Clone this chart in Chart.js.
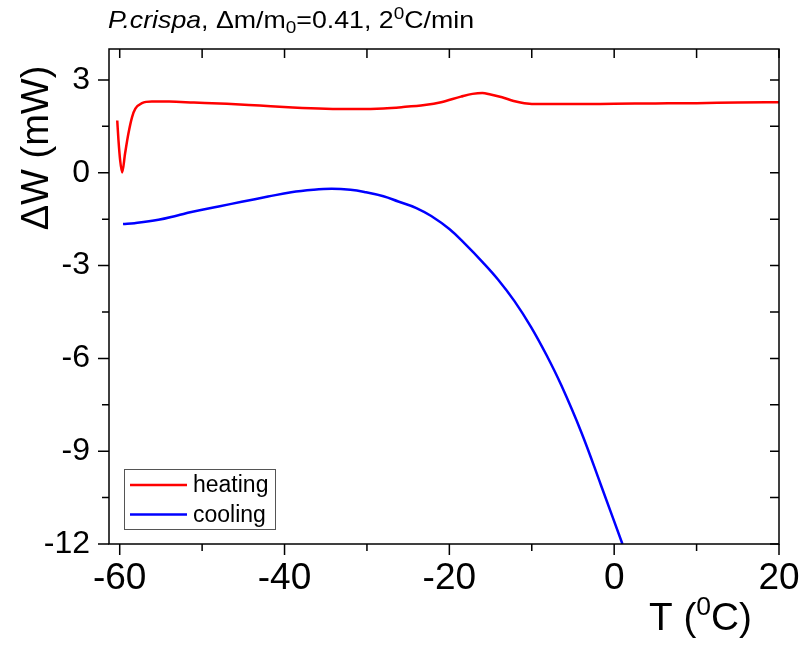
<!DOCTYPE html>
<html>
<head>
<meta charset="utf-8">
<title>P.crispa DSC</title>
<script src="https://cdn.jsdelivr.net/npm/chart.js@4.4.1/dist/chart.umd.min.js"></script>
<style>
  html, body { margin: 0; padding: 0; background: #fff; }
  canvas { display: block; }
</style>
</head>
<body>
<canvas id="dsc" width="806" height="646"></canvas>
<script>
// heating run, T in degC, dW in mW
const heatingT = [-60.3, -60.15, -59.95, -59.7, -59.35, -58.95, -58.5, -58.1, -57.3, -56.1, -54, -51, -47, -43, -39, -35, -31, -28, -25.8, -23, -21, -18.6, -17.2, -16, -15, -13.6, -12.2, -10.9, -9, -5, 0, 5, 10, 15, 20];
const heatingW = [1.69, 1.05, 0.41, 0.01, 0.62, 1.26, 1.80, 2.07, 2.25, 2.30, 2.30, 2.27, 2.23, 2.17, 2.11, 2.07, 2.06, 2.08, 2.12, 2.19, 2.28, 2.46, 2.55, 2.58, 2.53, 2.44, 2.32, 2.25, 2.22, 2.22, 2.23, 2.24, 2.25, 2.27, 2.28];

// cooling run
const coolingT = [-59.6, -58.2, -55.3, -53, -51.3, -48, -45.2, -42, -39.2, -36.5, -34.3, -32, -30.3, -28, -26.2, -24, -22.2, -20, -18.1, -16, -14.1, -12.1, -10.1, -8.2, -6.4, -4.0, -1.6, 1.0];
const coolingW = [-1.66, -1.63, -1.52, -1.38, -1.27, -1.09, -0.94, -0.77, -0.63, -0.55, -0.52, -0.55, -0.62, -0.76, -0.93, -1.14, -1.40, -1.82, -2.30, -2.88, -3.45, -4.15, -4.98, -5.9, -6.88, -8.38, -10.1, -12.0];

const xMajorTicks = [-60, -40, -20, 0, 20];
const xMinorTicks = [-50, -30, -10, 10];
const yMajorTicks = [-12, -9, -6, -3, 0, 3];
const yMinorTicks = [-10.5, -7.5, -4.5, -1.5, 1.5];

const FONT = '"Liberation Sans", Arial, sans-serif';

const toPoints = (xs, ys) => xs.map((x, i) => ({ x, y: ys[i] }));

const partFont = p => (p.italic ? 'italic ' : '') + p.size + 'px ' + FONT;

// draw a run of text pieces, some raised or lowered; optionally stretched to a width
function drawRich(ctx, x, y, parts, width) {
  let total = 0;
  for (const p of parts) {
    ctx.font = partFont(p);
    total += ctx.measureText(p.t).width;
  }
  const sx = width ? width / total : 1;
  ctx.save();
  ctx.translate(x, y);
  ctx.scale(sx, 1);
  let cx = 0;
  for (const p of parts) {
    ctx.font = partFont(p);
    ctx.fillText(p.t, cx, p.dy || 0);
    cx += ctx.measureText(p.t).width;
  }
  ctx.restore();
}

// box frame with outward ticks on left/bottom, inward on top/right
const framePlugin = {
  id: 'frame',
  afterDraw(chart) {
    const { ctx, chartArea: a, scales: { x, y } } = chart;
    ctx.save();
    ctx.strokeStyle = '#000';
    ctx.lineWidth = 1.5;
    ctx.strokeRect(a.left, a.top, a.right - a.left, a.bottom - a.top);
    ctx.beginPath();
    const xt = (vals, out) => vals.forEach(v => {
      const px = x.getPixelForValue(v);
      ctx.moveTo(px, a.bottom); ctx.lineTo(px, a.bottom + out);
      ctx.moveTo(px, a.top); ctx.lineTo(px, a.top + 9);
    });
    const yt = (vals, out) => vals.forEach(v => {
      const py = y.getPixelForValue(v);
      ctx.moveTo(a.left, py); ctx.lineTo(a.left - out, py);
      ctx.moveTo(a.right, py); ctx.lineTo(a.right - 9, py);
    });
    xt(xMajorTicks, 11); xt(xMinorTicks, 7);
    yt(yMajorTicks, 11); yt(yMinorTicks, 7);
    ctx.stroke();
    ctx.restore();
  }
};

// title, axis titles and the boxed legend
const textPlugin = {
  id: 'texts',
  afterDraw(chart) {
    const { ctx } = chart;
    ctx.save();
    ctx.fillStyle = '#000';
    ctx.textBaseline = 'alphabetic';
    ctx.textAlign = 'left';

    drawRich(ctx, 108, 28, [
      { t: 'P.crispa', size: 24, italic: true },
      { t: ', \u0394m/m', size: 24 },
      { t: '0', size: 17, dy: 5 },
      { t: '=0.41, 2', size: 24 },
      { t: '0', size: 17, dy: -9 },
      { t: 'C/min', size: 24 }
    ], 366);

    drawRich(ctx, 649, 630, [
      { t: 'T (', size: 38 },
      { t: '0', size: 26, dy: -15 },
      { t: 'C)', size: 38 }
    ], 103);

    ctx.save();
    ctx.translate(48, 148);
    ctx.rotate(-Math.PI / 2);
    ctx.textAlign = 'center';
    ctx.font = '38px ' + FONT;
    ctx.fillText('\u0394W (mW)', 0, 0);
    ctx.restore();

    ctx.strokeStyle = '#555';
    ctx.lineWidth = 1;
    ctx.strokeRect(124.5, 469.5, 151, 60);
    ctx.font = '23px ' + FONT;
    ctx.textBaseline = 'middle';
    chart.data.datasets.forEach((ds, i) => {
      const ly = 485 + i * 29.5;
      ctx.strokeStyle = ds.borderColor;
      ctx.lineWidth = 2.5;
      ctx.beginPath();
      ctx.moveTo(130, ly); ctx.lineTo(187, ly);
      ctx.stroke();
      ctx.fillText(ds.label, 193, ly + 1);
    });
    ctx.restore();
  }
};

new Chart(document.getElementById('dsc'), {
  type: 'scatter',
  data: {
    datasets: [
      { label: 'heating', data: toPoints(heatingT, heatingW), borderColor: '#ff0000', cubicInterpolationMode: 'monotone' },
      { label: 'cooling', data: toPoints(coolingT, coolingW), borderColor: '#0000ff', tension: 0.4 }
    ]
  },
  options: {
    responsive: false,
    animation: false,
    showLine: true,
    elements: {
      point: { radius: 0 },
      line: { borderWidth: 2.5, fill: false }
    },
    layout: { padding: { top: 49, right: 27, left: 0, bottom: 0 } },
    plugins: { legend: { display: false }, tooltip: { enabled: false } },
    scales: {
      x: {
        type: 'linear', min: -61.3, max: 20,
        grid: { display: false, drawTicks: false },
        border: { display: false },
        afterBuildTicks: s => { s.ticks = xMajorTicks.map(v => ({ value: v })); },
        afterFit: s => { s.height = 102; s.paddingLeft = 0; s.paddingRight = 0; },
        ticks: { padding: 13, color: '#000', font: { family: FONT, size: 37 }, maxRotation: 0, autoSkip: false }
      },
      y: {
        type: 'linear', min: -12, max: 4,
        grid: { display: false, drawTicks: false },
        border: { display: false },
        afterBuildTicks: s => { s.ticks = yMajorTicks.map(v => ({ value: v })); },
        afterFit: s => { s.width = 109; s.paddingTop = 0; s.paddingBottom = 0; },
        ticks: { padding: 19, color: '#000', font: { family: FONT, size: 32 }, autoSkip: false }
      }
    }
  },
  plugins: [framePlugin, textPlugin]
});
</script>
</body>
</html>
